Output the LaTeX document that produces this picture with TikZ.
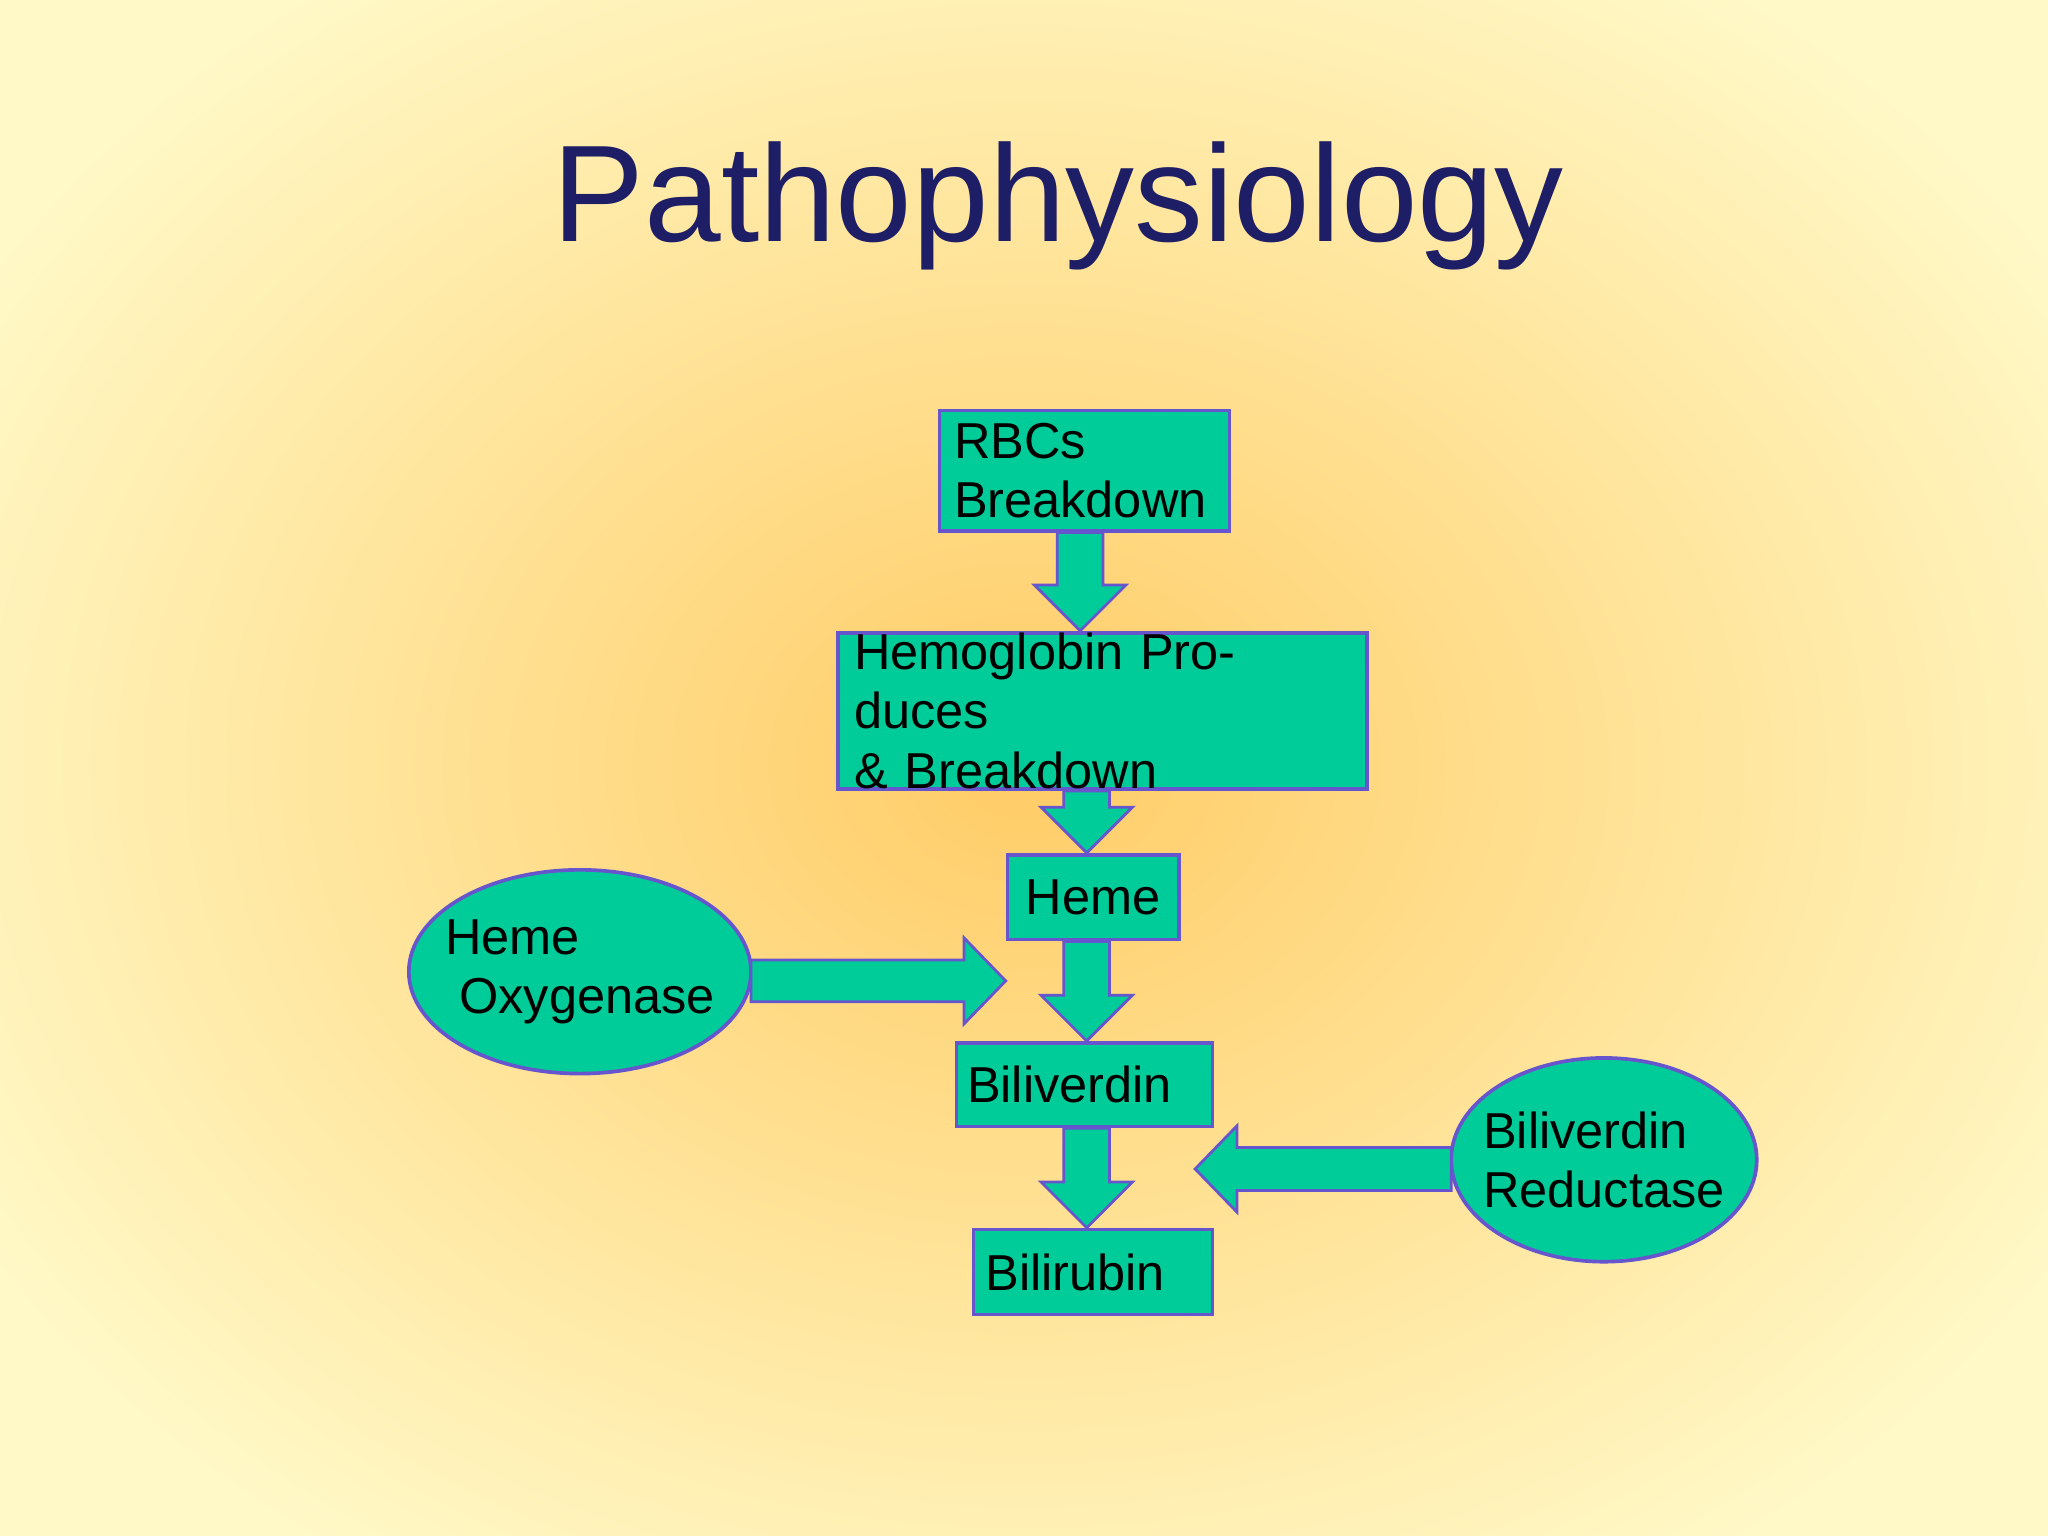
\documentclass[tikz,border=0pt]{standalone}
\usepackage{fontspec}
\setmainfont{Liberation Sans}
\usetikzlibrary{calc}
\definecolor{teal1}{HTML}{00CC99}
\definecolor{bord}{HTML}{6655CC}
\definecolor{navy}{HTML}{1E1E66}
\definecolor{bgin}{HTML}{FFCC66}
\definecolor{bgout}{HTML}{FFF9C8}
\definecolor{bgmid}{HTML}{FFE39A}
\tikzset{
  box/.style={draw=bord, fill=teal1, line width=0.8pt, inner sep=0pt, align=left, font=\fontsize{11}{13}\selectfont},
  arr/.style={draw=bord, fill=teal1, line width=0.6pt}
}
\newcommand\darr[3]{%
  \coordinate (tx) at (#1,0);
  \filldraw[arr] ($(tx|-#2.south)+(-0.175,0)$) -- ($(tx|-#3.north)+(-0.175,0.35)$) -- ++(-0.175,0)
    -- (tx|-#3.north) -- ($(tx|-#3.north)+(0.35,0.35)$) -- ++(-0.175,0)
    -- ($(tx|-#2.south)+(0.175,0)$) -- cycle;}
\begin{document}
\begin{tikzpicture}
\useasboundingbox (0,0) rectangle (15.68,11.76);
\fill[bgout] (0,0) rectangle (15.68,11.76);
\shade[inner color=bgin, outer color=bgout] (-1.5,-1.5) rectangle (17.2,13.3);
\node[text=navy, font=\fontsize{30}{36}\selectfont] (title) at (8.1,10.18) {Pathophysiology};
\node[box, minimum width=2.22cm, minimum height=0.92cm, anchor=north west, text width=2.0cm] (rbc) at (7.18,8.63) {RBCs\\Breakdown};
\node[box, minimum width=4.05cm, minimum height=0.91cm, anchor=north west, text width=3.8cm] (hb) at (6.40,6.93) {Hemoglobin Produces\\\& Breakdown};
\node[box, minimum width=1.31cm, minimum height=0.65cm, anchor=north west] (heme) at (7.70,5.23) {Heme};
\node[box, minimum width=1.96cm, minimum height=0.64cm, anchor=north west, text width=1.8cm] (bv) at (7.31,3.79) {Biliverdin};
\node[box, minimum width=1.83cm, minimum height=0.65cm, anchor=north west, text width=1.65cm] (br) at (7.44,2.36) {Bilirubin};
\draw[draw=bord, fill=teal1, line width=0.8pt] (4.44,4.32) ellipse (1.31 and 0.78);
\node[align=left, font=\fontsize{11}{13}\selectfont] (ho) at (4.44,4.32) {Heme\\ \ Oxygenase};
\draw[draw=bord, fill=teal1, line width=0.8pt] (12.28,2.88) ellipse (1.17 and 0.78);
\node[align=left, font=\fontsize{11}{13}\selectfont] (bvr) at (12.28,2.88) {Biliverdin\\Reductase};
\darr{8.27}{rbc}{hb}
\darr{8.32}{hb}{heme}
\darr{8.32}{heme}{bv}
\darr{8.32}{bv}{br}
\coordinate (hoe) at (5.75,4.25);
\coordinate (hot) at (7.70,4.25);
\filldraw[arr] ($(hoe)+(0,0.16)$) -- ($(hot)+(-0.32,0.16)$) -- ++(0,0.17) -- (hot) -- ($(hot)+(-0.32,-0.33)$) -- ++(0,0.17) -- ($(hoe)+(0,-0.16)$) -- cycle;
\coordinate (bre) at (11.11,2.81);
\coordinate (brt) at (9.15,2.81);
\filldraw[arr] ($(bre)+(0,0.165)$) -- ($(brt)+(0.32,0.165)$) -- ++(0,0.165) -- (brt) -- ($(brt)+(0.32,-0.33)$) -- ++(0,0.165) -- ($(bre)+(0,-0.165)$) -- cycle;
\end{tikzpicture}
\end{document}
